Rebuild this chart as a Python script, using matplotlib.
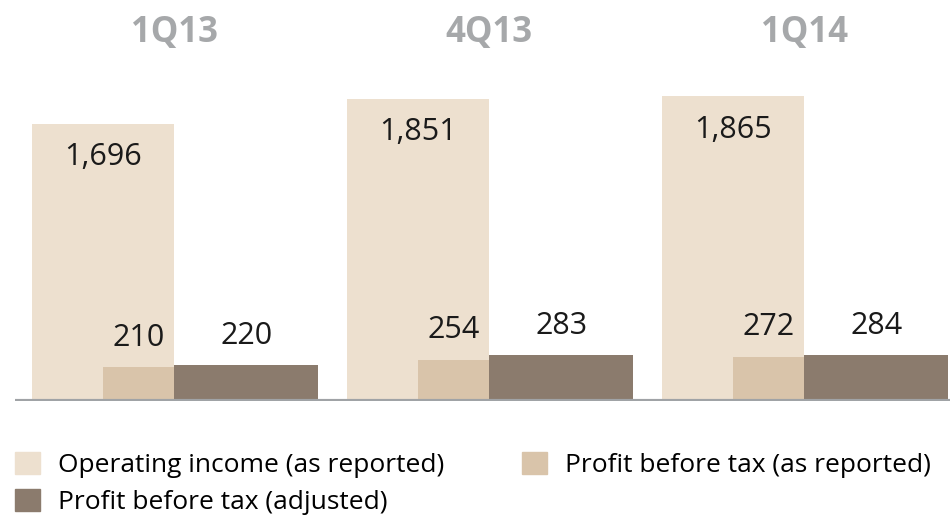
import matplotlib.pyplot as plt
from matplotlib.patches import Patch

plt.rcParams['font.family'] = ['Open Sans', 'DejaVu Sans']

quarters = ["1Q13", "4Q13", "1Q14"]
operating_income = [1696, 1851, 1865]
pbt_reported = [210, 254, 272]
pbt_adjusted = [220, 283, 284]

c_op = "#EDE0CF"
c_rep = "#D9C4AA"
c_adj = "#8B7B6D"
c_grey = "#A6A8AA"

fig = plt.figure(figsize=(9.5, 5.16), dpi=100)
ax = fig.add_axes([15 / 950, 115 / 516, 935 / 950, 401 / 516])

x = range(len(quarters))
w_op = 0.451
w_rep = 0.2255
w_adj = 0.457

for i in x:
    ax.bar(i - w_op / 2, operating_income[i], width=w_op, color=c_op, zorder=1)
    ax.bar(i - w_rep / 2, pbt_reported[i], width=w_rep, color=c_rep, zorder=2)
    ax.bar(i + w_adj / 2, pbt_adjusted[i], width=w_adj, color=c_adj, zorder=2)

    ax.text(i - w_op / 2, operating_income[i] - 205, f"{operating_income[i]:,}",
            ha="center", va="center", fontsize=22, color="#1a1a1a")
    ax.text(i - w_rep / 2, pbt_reported[i] + 178, f"{pbt_reported[i]:,}",
            ha="center", va="center", fontsize=22, color="#1a1a1a")
    ax.text(i + w_adj / 2, pbt_adjusted[i] + 178, f"{pbt_adjusted[i]:,}",
            ha="center", va="center", fontsize=22, color="#1a1a1a")
    ax.text(i, 2255, quarters[i], ha="center", va="center",
            fontsize=25, fontweight="bold", color=c_grey)

ax.set_xlim(-0.505, 2.463)
ax.set_ylim(0, 2455)
ax.axhline(0, color="#A0A3A6", lw=3, zorder=3)
ax.axis("off")

handles = [Patch(color=c_op, label="Operating income (as reported)"),
           Patch(color=c_adj, label="Profit before tax (adjusted)"),
           Patch(color=c_rep, label="Profit before tax (as reported)")]
fig.legend(handles=handles, ncol=2, loc="upper left", bbox_to_anchor=(15 / 950, 0.125),
           frameon=False, fontsize=19, handlelength=0.95, handleheight=0.95,
           handletextpad=0.68, columnspacing=2.95, labelspacing=0.4,
           borderpad=0, borderaxespad=0)

fig.savefig("out.png", dpi=100)
